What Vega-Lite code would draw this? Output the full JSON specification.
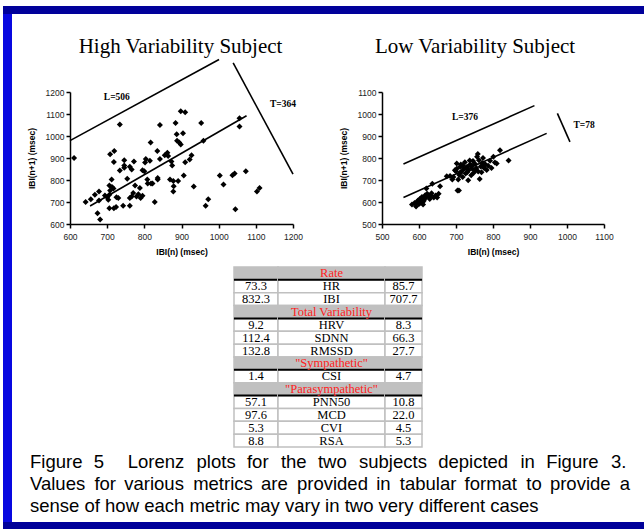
{
  "$schema": "https://vega.github.io/schema/vega-lite/v6.json",
  "background": "white",
  "padding": {"left": 3, "top": 6, "right": 0, "bottom": 0},
  "config": {
    "view": {"stroke": null},
    "font": "Liberation Sans",
    "axis": {"domainColor": "black", "domainWidth": 1.5, "tickColor": "black", "tickWidth": 1.5, "tickSize": 4, "labelFont": "Liberation Sans", "labelFontSize": 8.5, "labelColor": "#222222", "labelPadding": 2, "titleFont": "Liberation Sans", "titleFontSize": 8.5, "titleFontWeight": "bold", "titleColor": "black", "grid": false, "labelFlush": false, "labelOverlap": false},
    "axisX": {"titlePadding": 7, "labelPadding": 4},
    "axisY": {"titlePadding": 9},
    "title": {"font": "Liberation Serif", "fontWeight": "normal", "fontSize": 21, "color": "black"}
  },
  "datasets": {
    "high": [
      {"x":611,"y":900},{"x":642,"y":700},{"x":656,"y":712},{"x":667,"y":733},{"x":678,"y":748},{"x":678,"y":707},{"x":674,"y":649},{"x":681,"y":621},{"x":694,"y":729},{"x":700,"y":722},{"x":706,"y":733},{"x":703,"y":710},{"x":708,"y":752},{"x":706,"y":775},{"x":712,"y":802},{"x":713,"y":768},{"x":717,"y":761},{"x":706,"y":672},{"x":718,"y":672},{"x":724,"y":677},{"x":718,"y":882},{"x":708,"y":917},{"x":719,"y":932},{"x":725,"y":722},{"x":730,"y":718},{"x":734,"y":843},{"x":734,"y":1052},{"x":743,"y":683},{"x":746,"y":890},{"x":746,"y":866},{"x":746,"y":856},{"x":754,"y":806},{"x":761,"y":860},{"x":761,"y":718},{"x":761,"y":683},{"x":766,"y":725},{"x":766,"y":848},{"x":772,"y":884},{"x":770,"y":741},{"x":775,"y":775},{"x":779,"y":725},{"x":784,"y":735},{"x":788,"y":764},{"x":790,"y":718},{"x":795,"y":728},{"x":795,"y":844},{"x":800,"y":840},{"x":802,"y":879},{"x":804,"y":895},{"x":808,"y":802},{"x":809,"y":784},{"x":815,"y":887},{"x":817,"y":970},{"x":818,"y":784},{"x":822,"y":784},{"x":828,"y":700},{"x":836,"y":802},{"x":836,"y":809},{"x":835,"y":932},{"x":842,"y":1050},{"x":842,"y":895},{"x":855,"y":913},{"x":862,"y":924},{"x":864,"y":909},{"x":869,"y":802},{"x":873,"y":884},{"x":875,"y":866},{"x":878,"y":795},{"x":878,"y":748},{"x":879,"y":772},{"x":884,"y":1059},{"x":887,"y":1008},{"x":888,"y":978},{"x":891,"y":795},{"x":894,"y":970},{"x":898,"y":961},{"x":898,"y":1113},{"x":904,"y":1013},{"x":906,"y":820},{"x":910,"y":881},{"x":910,"y":1108},{"x":922,"y":893},{"x":927,"y":912},{"x":933,"y":770},{"x":953,"y":1059},{"x":959,"y":978},{"x":965,"y":683},{"x":972,"y":713},{"x":1003,"y":820},{"x":1013,"y":779},{"x":1037,"y":822},{"x":1043,"y":830},{"x":1045,"y":667},{"x":1056,"y":1081},{"x":1056,"y":1043},{"x":1073,"y":840},{"x":1103,"y":748},{"x":1110,"y":764}
    ],
    "highLines": [
      {"x":600,"y":979,"x2":1001,"y2":1348},
      {"x":654,"y":682,"x2":1075,"y2":1092},
      {"x":1039,"y":1332,"x2":1200,"y2":827}
    ],
    "highLabels": [
      {"x":726,"y":1177,"label":"L=506"},
      {"x":1173,"y":1145,"label":"T=364"}
    ],
    "low": [
      {"x":581,"y":589},{"x":588,"y":595},{"x":592,"y":580},{"x":596,"y":603},{"x":600,"y":591},{"x":603,"y":615},{"x":605,"y":598},{"x":608,"y":623},{"x":611,"y":589},{"x":613,"y":606},{"x":616,"y":630},{"x":618,"y":620},{"x":620,"y":661},{"x":622,"y":638},{"x":627,"y":623},{"x":631,"y":630},{"x":636,"y":683},{"x":640,"y":620},{"x":645,"y":630},{"x":649,"y":620},{"x":653,"y":638},{"x":657,"y":672},{"x":675,"y":717},{"x":684,"y":718},{"x":690,"y":702},{"x":693,"y":714},{"x":697,"y":744},{"x":702,"y":775},{"x":702,"y":751},{"x":704,"y":652},{"x":708,"y":652},{"x":706,"y":702},{"x":709,"y":723},{"x":711,"y":760},{"x":715,"y":737},{"x":718,"y":714},{"x":719,"y":766},{"x":721,"y":751},{"x":724,"y":781},{"x":726,"y":729},{"x":728,"y":754},{"x":733,"y":699},{"x":734,"y":744},{"x":737,"y":789},{"x":738,"y":771},{"x":741,"y":722},{"x":744,"y":751},{"x":746,"y":786},{"x":748,"y":733},{"x":751,"y":774},{"x":755,"y":754},{"x":757,"y":806},{"x":759,"y":818},{"x":760,"y":739},{"x":764,"y":705},{"x":767,"y":761},{"x":769,"y":735},{"x":771,"y":777},{"x":773,"y":800},{"x":776,"y":754},{"x":779,"y":772},{"x":783,"y":745},{"x":787,"y":765},{"x":792,"y":788},{"x":796,"y":754},{"x":801,"y":806},{"x":805,"y":780},{"x":810,"y":775},{"x":819,"y":835},{"x":842,"y":789},
      {"x":594,"y":598},{"x":598,"y":608},{"x":602,"y":596},{"x":606,"y":612},{"x":610,"y":600},{"x":614,"y":614},{"x":619,"y":628},{"x":624,"y":632},{"x":629,"y":614},{"x":634,"y":640},{"x":700,"y":740},{"x":713,"y":770},{"x":730,"y":760},{"x":742,"y":765},{"x":753,"y":745},{"x":762,"y":790},{"x":774,"y":762},{"x":730,"y":735},{"x":712,"y":735}
    ],
    "lowLines": [
      {"x":558,"y":773,"x2":912,"y2":1038},
      {"x":558,"y":620,"x2":945,"y2":912},
      {"x":974,"y":1003,"x2":1008,"y2":873}
    ],
    "lowLabels": [
      {"x":724,"y":986,"label":"L=376"},
      {"x":1046,"y":950,"label":"T=78"}
    ],
    "table": [
      {"name":"Rate","kind":"header","high":"","low":""},
      {"name":"HR","kind":"data","high":"73.3","low":"85.7"},
      {"name":"IBI","kind":"data","high":"832.3","low":"707.7"},
      {"name":"Total Variability","kind":"header","high":"","low":""},
      {"name":"HRV","kind":"data","high":"9.2","low":"8.3"},
      {"name":"SDNN","kind":"data","high":"112.4","low":"66.3"},
      {"name":"RMSSD","kind":"data","high":"132.8","low":"27.7"},
      {"name":"\"Sympathetic\"","kind":"header","high":"","low":""},
      {"name":"CSI","kind":"data","high":"1.4","low":"4.7"},
      {"name":"\"Parasympathetic\"","kind":"header","high":"","low":""},
      {"name":"PNN50","kind":"data","high":"57.1","low":"10.8"},
      {"name":"MCD","kind":"data","high":"97.6","low":"22.0"},
      {"name":"CVI","kind":"data","high":"5.3","low":"4.5"},
      {"name":"RSA","kind":"data","high":"8.8","low":"5.3"}
    ],
    "caption": [
      {"line":1,"text":"Figure \u20045\u2002\u2006 \u2004Lorenz\u2002\u2006plots \u2004for\u2002\u2006the \u2004two\u2002\u2006subjects \u2004depicted\u2002\u2006in \u2004Figure\u2002\u20063."},
      {"line":2,"text":"Values\u2002for \u2006various\u2002metrics \u2006are\u2002provided \u2006in\u2002tabular \u2006format\u2002to \u2006provide\u2002a"},
      {"line":3,"text":"sense of how each metric may vary in two very different cases"}
    ]
  },
  "spacing": 0,
  "bounds": "flush",
  "vconcat": [
    {"width": 641, "height": 8, "view": {"fill": "#00009A", "stroke": null}, "data": {"values": []}, "mark": {"type": "point"}, "encoding": {}},
    {
      "spacing": 0,
      "bounds": "flush",
      "hconcat": [
        {"width": 9, "height": 508, "view": {"fill": "#0808E0", "stroke": null}, "data": {"values": []}, "mark": {"type": "point"}, "encoding": {}},
        {
          "spacing": 0,
          "bounds": "flush",
          "vconcat": [
            {"width": 1, "height": 78, "data": {"values": []}, "mark": {"type": "point"}, "encoding": {}},
            {
              "spacing": 0,
              "bounds": "flush",
              "hconcat": [
                {"width": 58, "height": 1, "data": {"values": []}, "mark": {"type": "point"}, "encoding": {}},
                {
                  "width": 223,
                  "height": 132,
                  "title": {"text": "High Variability Subject", "frame": "group", "offset": 2, "anchor": "middle", "dx": -1},
                  "encoding": {
                    "x": {"field": "x", "type": "quantitative", "scale": {"domain": [600, 1200], "nice": false, "zero": false}, "axis": {"values": [600, 700, 800, 900, 1000, 1100, 1200], "format": "d", "title": "IBI(n) (msec)"}},
                    "y": {"field": "y", "type": "quantitative", "scale": {"domain": [600, 1200], "nice": false, "zero": false}, "axis": {"values": [600, 700, 800, 900, 1000, 1100, 1200], "format": "d", "title": "IBI(n+1) (msec)"}}
                  },
                  "layer": [
                    {"data": {"name": "high"}, "mark": {"type": "point", "shape": "diamond", "filled": true, "color": "black", "size": 36, "opacity": 1}},
                    {"data": {"name": "highLines"}, "mark": {"type": "rule", "color": "black", "strokeWidth": 1.6}, "encoding": {"x2": {"field": "x2"}, "y2": {"field": "y2"}}},
                    {"data": {"name": "highLabels"}, "mark": {"type": "text", "font": "Liberation Serif", "fontWeight": "bold", "fontSize": 9.5, "color": "black"}, "encoding": {"text": {"field": "label"}}}
                  ]
                },
                {"width": 89, "height": 1, "data": {"values": []}, "mark": {"type": "point"}, "encoding": {}},
                {
                  "width": 222,
                  "height": 132,
                  "title": {"text": "Low Variability Subject", "frame": "group", "offset": 31, "anchor": "middle", "dx": -18},
                  "encoding": {
                    "x": {"field": "x", "type": "quantitative", "scale": {"domain": [500, 1100], "nice": false, "zero": false}, "axis": {"values": [500, 600, 700, 800, 900, 1000, 1100], "format": "d", "title": "IBI(n)  (msec)"}},
                    "y": {"field": "y", "type": "quantitative", "scale": {"domain": [500, 1100], "nice": false, "zero": false}, "axis": {"values": [500, 600, 700, 800, 900, 1000, 1100], "format": "d", "title": "IBI(n+1) (msec)"}}
                  },
                  "layer": [
                    {"data": {"name": "low"}, "mark": {"type": "point", "shape": "diamond", "filled": true, "color": "black", "size": 36, "opacity": 1}},
                    {"data": {"name": "lowLines"}, "mark": {"type": "rule", "color": "black", "strokeWidth": 1.6}, "encoding": {"x2": {"field": "x2"}, "y2": {"field": "y2"}}},
                    {"data": {"name": "lowLabels"}, "mark": {"type": "text", "font": "Liberation Serif", "fontWeight": "bold", "fontSize": 9.5, "color": "black"}, "encoding": {"text": {"field": "label"}}}
                  ]
                }
              ]
            },
            {"width": 1, "height": 175, "data": {"values": []}, "mark": {"type": "point"}, "encoding": {}},
            {
              "spacing": 0,
              "bounds": "flush",
              "hconcat": [
                {"width": 222, "height": 1, "data": {"values": []}, "mark": {"type": "point"}, "encoding": {}},
                {
                  "width": 44, "height": 180, "data": {"name": "table"},
                  "encoding": {"y": {"field": "name", "type": "nominal", "sort": null, "axis": null, "scale": {"paddingInner": 0, "paddingOuter": 0}}},
                  "layer": [
                    {"mark": {"type": "rect", "stroke": "#c0c0c0", "strokeWidth": 1.5}, "encoding": {"x": {"value": 0}, "x2": {"value": "width"}, "fill": {"field": "kind", "type": "nominal", "scale": {"domain": ["header", "data"], "range": ["#c0c0c0", "#ffffff"]}, "legend": null}}},
                    {"mark": {"type": "rule", "color": "black", "strokeWidth": 2}, "encoding": {"x": {"value": 0}, "x2": {"value": "width"}, "y": {"field": "name", "type": "nominal", "sort": null, "bandPosition": 1}, "strokeOpacity": {"condition": {"test": "datum.kind == 'header'", "value": 1}, "value": 0}}},
                    {"mark": {"type": "text", "font": "Liberation Serif", "fontSize": 12.5, "color": "black"}, "encoding": {"text": {"field": "high"}}}
                  ]
                },
                {
                  "width": 107, "height": 180, "data": {"name": "table"},
                  "encoding": {"y": {"field": "name", "type": "nominal", "sort": null, "axis": null, "scale": {"paddingInner": 0, "paddingOuter": 0}}},
                  "layer": [
                    {"mark": {"type": "rect", "stroke": "#c0c0c0", "strokeWidth": 1.5}, "encoding": {"x": {"value": 0}, "x2": {"value": "width"}, "fill": {"field": "kind", "type": "nominal", "scale": {"domain": ["header", "data"], "range": ["#c0c0c0", "#ffffff"]}, "legend": null}}},
                    {"mark": {"type": "rule", "color": "black", "strokeWidth": 2}, "encoding": {"x": {"value": 0}, "x2": {"value": "width"}, "y": {"field": "name", "type": "nominal", "sort": null, "bandPosition": 1}, "strokeOpacity": {"condition": {"test": "datum.kind == 'header'", "value": 1}, "value": 0}}},
                    {"mark": {"type": "text", "font": "Liberation Serif", "fontSize": 12.5}, "encoding": {"text": {"field": "name"}, "color": {"condition": {"test": "datum.kind == 'header'", "value": "#ff2020"}, "value": "black"}}}
                  ]
                },
                {
                  "width": 37, "height": 180, "data": {"name": "table"},
                  "encoding": {"y": {"field": "name", "type": "nominal", "sort": null, "axis": null, "scale": {"paddingInner": 0, "paddingOuter": 0}}},
                  "layer": [
                    {"mark": {"type": "rect", "stroke": "#c0c0c0", "strokeWidth": 1.5}, "encoding": {"x": {"value": 0}, "x2": {"value": "width"}, "fill": {"field": "kind", "type": "nominal", "scale": {"domain": ["header", "data"], "range": ["#c0c0c0", "#ffffff"]}, "legend": null}}},
                    {"mark": {"type": "rule", "color": "black", "strokeWidth": 2}, "encoding": {"x": {"value": 0}, "x2": {"value": "width"}, "y": {"field": "name", "type": "nominal", "sort": null, "bandPosition": 1}, "strokeOpacity": {"condition": {"test": "datum.kind == 'header'", "value": 1}, "value": 0}}},
                    {"mark": {"type": "text", "font": "Liberation Serif", "fontSize": 12.5, "color": "black"}, "encoding": {"text": {"field": "low"}}}
                  ]
                }
              ]
            },
            {"width": 1, "height": 190, "data": {"values": []}, "mark": {"type": "point"}, "encoding": {}},
            {
              "spacing": 0,
              "bounds": "flush",
              "hconcat": [
                {"width": 18, "height": 1, "data": {"values": []}, "mark": {"type": "point"}, "encoding": {}},
                {
                  "width": 596, "height": 66, "data": {"name": "caption"},
                  "mark": {"type": "text", "align": "left", "baseline": "alphabetic", "font": "Liberation Sans", "fontSize": 18.5, "color": "black"},
                  "encoding": {
                    "x": {"value": 0},
                    "y": {"field": "line", "type": "ordinal", "scale": {"type": "point", "padding": 0.5}, "axis": null},
                    "text": {"field": "text"}
                  }
                }
              ]
            }
          ]
        }
      ]
    },
    {"width": 1, "height": 508, "data": {"values": []}, "mark": {"type": "point"}, "encoding": {}},
    {"width": 641, "height": 7, "view": {"fill": "#00009A", "stroke": null}, "data": {"values": []}, "mark": {"type": "point"}, "encoding": {}}
  ]
}
